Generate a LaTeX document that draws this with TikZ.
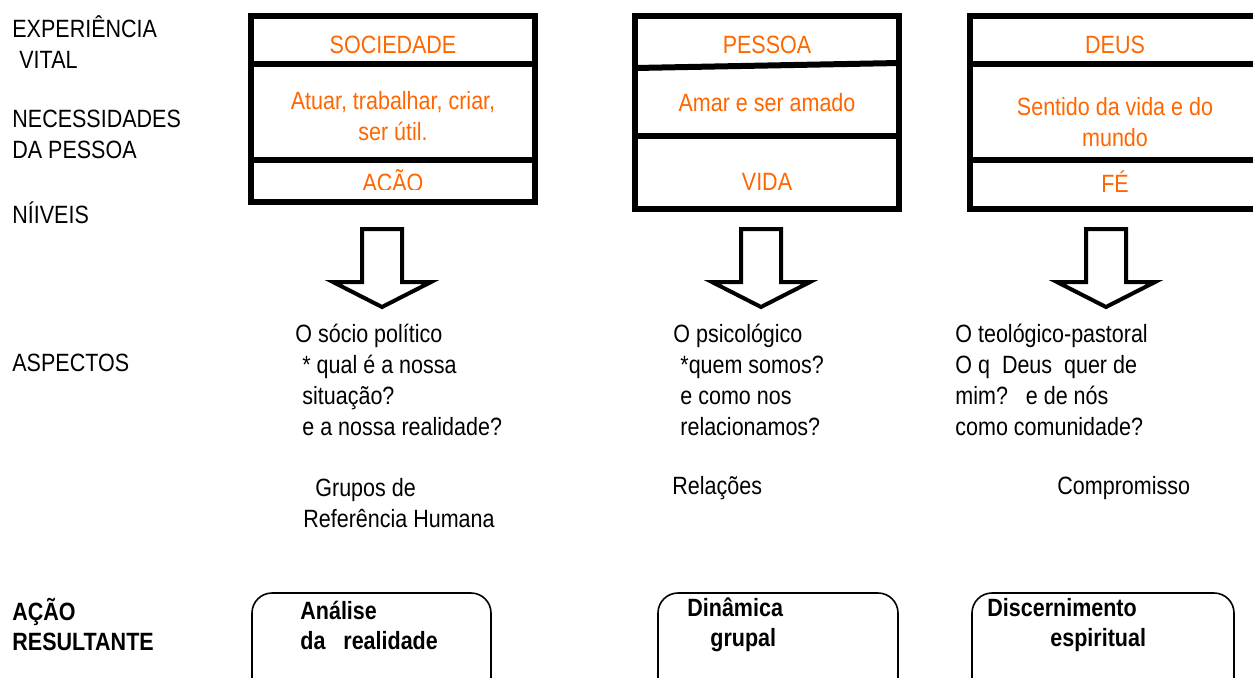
\documentclass[tikz,border=0pt]{standalone}
\usepackage{fontspec}
\setmainfont{Liberation Sans}[FakeStretch=0.86]
\definecolor{needorange}{RGB}{255,102,0}
\tikzset{
  plaintext/.style={inner sep=0pt, align=left, anchor=west},
  needtext/.style={inner sep=0pt, align=center, text=needorange},
  boxframe/.style={line width=3pt},
  bigarrow/.style={line width=2pt, fill=white, line join=miter},
  actionbox/.style={line width=0.8pt, rounded corners=10pt},
  actiontext/.style={plaintext, font=\fontsize{12.5}{15}\selectfont\bfseries}
}
\newcommand{\ind}[1]{\hspace*{#1pt}}

\begin{document}
\begin{tikzpicture}[x=0.5pt,y=-0.5pt,font=\fontsize{12.5}{15.5}\selectfont]
\clip (0,0) rectangle (1253,677);

% row labels
\node[plaintext] (vital) at (12,42) {EXPERIÊNCIA\\\ind{3.5}VITAL};
\node[plaintext] (needs) at (12,134) {NECESSIDADES\\DA PESSOA};
\node[plaintext] (levels) at (12,213) {NÍIVEIS};
\node[plaintext] (aspects) at (12,363) {ASPECTOS};
\node[actiontext] (result) at (12,624) {AÇÃO\\RESULTANTE};

% three columns: frames
\draw[boxframe] (251,16) rectangle (535,202);
\draw[boxframe] (251,64) -- (535,64);
\draw[boxframe] (251,160) -- (535,160);

\draw[boxframe] (635,16) rectangle (899,209);
\draw[boxframe] (635,68) -- (899,63);
\draw[boxframe] (635,136) -- (899,136);

\draw[boxframe] (970,16) rectangle (1262,209);
\draw[boxframe] (970,64) -- (1262,64);
\draw[boxframe] (970,160) -- (1262,160);

% column texts
\node[needtext] (soc) at (393,45) {SOCIEDADE};
\node[needtext] (act) at (393,116) {Atuar, trabalhar, criar,\\ser útil.};
\begin{scope}
  \clip (254,163) rectangle (532,189);
  \node[needtext] (acao) at (393,183) {AÇÃO};
\end{scope}

\node[needtext] (pes) at (767,45) {PESSOA};
\node[needtext] (love) at (767,103) {Amar e ser amado};
\node[needtext] (vida) at (767,182) {VIDA};

\node[needtext] (deus) at (1115,45) {DEUS};
\node[needtext] (sense) at (1115,122) {Sentido da vida e do\\mundo};
\node[needtext] (fe) at (1115,182) {FÉ};

% hollow arrows
\draw[bigarrow] (362,229) -- (402,229) -- (402,282) -- (431,282) -- (382,307)
  -- (333,282) -- (362,282) -- cycle;
\draw[bigarrow] (741,229) -- (781,229) -- (781,282) -- (810,282) -- (761,307)
  -- (712,282) -- (741,282) -- cycle;
\draw[bigarrow] (1086,229) -- (1126,229) -- (1126,282) -- (1155,282) -- (1106,307)
  -- (1057,282) -- (1086,282) -- cycle;

% aspects
\node[plaintext] (asp1) at (295,380) {O sócio político\\\ind{3.5}* qual é a nossa\\
  \ind{3.5}situação?\\\ind{3.5}e a nossa realidade?};
\node[plaintext] (asp2) at (673,380) {O psicológico\\\ind{3.5}*quem somos?\\
  \ind{3.5}e como nos\\\ind{3.5}relacionamos?};
\node[plaintext] (asp3) at (955,380) {O teológico-pastoral\\O q\ \ Deus\ \ quer de\\
  mim?\ \ \ e de nós\\como comunidade?};

\node[plaintext] (groups) at (303,503) {\ind{6}Grupos de\\Referência Humana};
\node[plaintext] (rel) at (672,488) {Relações};
\node[plaintext] (comp) at (1057,488) {Compromisso};

% resulting actions
\draw[actionbox] (252,593) rectangle (491,720);
\draw[actionbox] (658,593) rectangle (898,720);
\draw[actionbox] (972,593) rectangle (1234,720);

\node[actiontext] (anal) at (300,625) {Análise\\da\ \ \ realidade};
\node[actiontext] (dyn) at (687,625) {Dinâmica\\\ind{11.5}grupal};
\node[actiontext] (disc) at (987,625) {Discernimento\\\ind{31.5}espiritual};
\end{tikzpicture}
\end{document}
